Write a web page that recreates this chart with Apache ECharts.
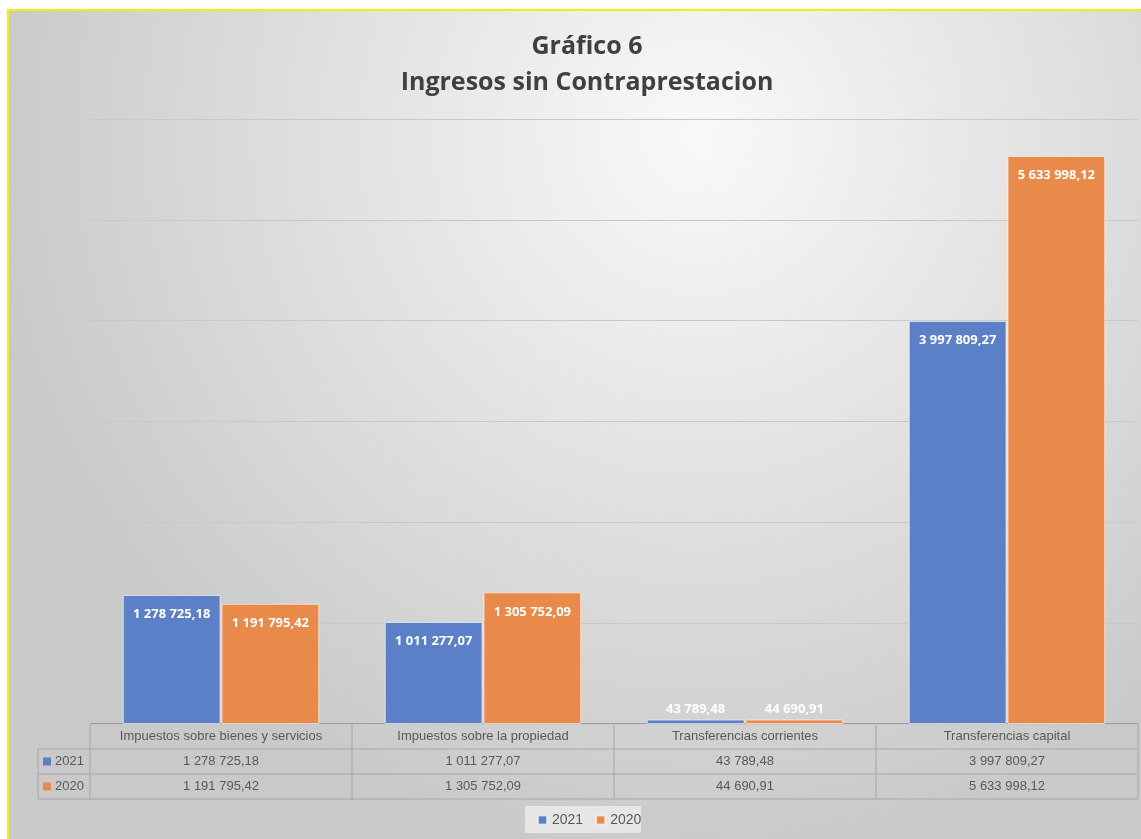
<!DOCTYPE html>
<html>
<head>
<meta charset="utf-8">
<script src="https://cdn.jsdelivr.net/npm/echarts@6/dist/echarts.min.js"></script>
<style>
  html, body { margin: 0; padding: 0; background: #fff; }
  #main { width: 1141px; height: 839px; }
</style>
</head>
<body>
<div id="main"></div>
<script>
// datos
var categorias = ['Impuestos sobre bienes y servicios', 'Impuestos sobre la propiedad', 'Transferencias corrientes', 'Transferencias capital'];
var anios = ['2021', '2020'];
var valores2021 = [1278725.18, 1011277.07, 43789.48, 3997809.27];
var valores2020 = [1191795.42, 1305752.09, 44690.91, 5633998.12];
var colores = ['#5b80c8', '#e98a4a'];

// formato 1 278 725,18
function fmt(v) {
    var p = v.toFixed(2).split('.');
    return p[0].replace(/\B(?=(\d{3})+(?!\d))/g, ' ') + ',' + p[1];
}

var W = 1141, H = 839;
var gLeft = 90, gRight = 3, gTop = 119, gBottom = 115;
var plotW = W - gLeft - gRight;
var colW = plotW / categorias.length;
var baseY = H - gBottom;
var rowH = 25;
var tableLeft = 38;
var lineColor = '#a6a6a6';
var textColor = '#595959';

var myChart = echarts.init(document.getElementById('main'));

// fondo y tabla de datos
var graficos = [];
graficos.push({
    type: 'rect', z: -10, silent: true,
    shape: { x: 8, y: 10, width: W + 10, height: H + 10 },
    style: {
        fill: {
            type: 'radial', x: 0.6, y: 0.15, r: 0.85,
            colorStops: [{ offset: 0, color: '#f9f9f9' }, { offset: 1, color: '#c9c9c9' }]
        },
        stroke: '#f2f200', lineWidth: 2
    }
});
// lineas horizontales
for (var r = 0; r <= 3; r++) {
    graficos.push({
        type: 'line', silent: true,
        shape: { x1: r === 0 ? gLeft : tableLeft, y1: baseY + r * rowH, x2: gLeft + plotW, y2: baseY + r * rowH },
        style: { stroke: r === 0 ? '#8c8c8c' : lineColor, lineWidth: r === 0 ? 1.5 : 1 }
    });
}
// lineas verticales
graficos.push({
    type: 'line', silent: true,
    shape: { x1: tableLeft, y1: baseY + rowH, x2: tableLeft, y2: baseY + 3 * rowH },
    style: { stroke: lineColor, lineWidth: 1 }
});
for (var c = 0; c <= categorias.length; c++) {
    graficos.push({
        type: 'line', silent: true,
        shape: { x1: gLeft + c * colW, y1: baseY, x2: gLeft + c * colW, y2: baseY + 3 * rowH },
        style: { stroke: lineColor, lineWidth: 1 }
    });
}
// textos de la tabla
var filas = [valores2021, valores2020];
categorias.forEach(function (cat, i) {
    graficos.push({
        type: 'text', silent: true,
        x: gLeft + (i + 0.5) * colW, y: baseY + rowH / 2,
        style: { text: cat, fill: textColor, font: '13px "Liberation Sans"', align: 'center', verticalAlign: 'middle' }
    });
    filas.forEach(function (fila, j) {
        graficos.push({
            type: 'text', silent: true,
            x: gLeft + (i + 0.5) * colW, y: baseY + (j + 1.5) * rowH,
            style: { text: fmt(fila[i]), fill: textColor, font: '13px "Liberation Sans"', align: 'center', verticalAlign: 'middle' }
        });
    });
});
anios.forEach(function (a, j) {
    graficos.push({
        type: 'rect', silent: true,
        shape: { x: tableLeft + 5, y: baseY + (j + 1.5) * rowH - 4, width: 8, height: 8 },
        style: { fill: colores[j] }
    });
    graficos.push({
        type: 'text', silent: true,
        x: tableLeft + 17, y: baseY + (j + 1.5) * rowH,
        style: { text: a, fill: textColor, font: '13px "Liberation Sans"', verticalAlign: 'middle' }
    });
});
// fondo de la leyenda
graficos.push({
    type: 'rect', z: -5, silent: true,
    shape: { x: 525, y: 806, width: 116, height: 27 },
    style: { fill: '#e6e6e6' }
});

function serie(nombre, valores, color) {
    return {
        name: nombre,
        type: 'bar',
        barGap: '1%',
        barCategoryGap: '25%',
        itemStyle: { color: color, borderColor: 'rgba(255,255,255,0.6)', borderWidth: 1 },
        label: {
            show: true,
            position: 'insideTop',
            distance: 13,
            color: '#fff',
            fontWeight: 'bold',
            fontSize: 13,
            fontFamily: 'Open Sans',
            formatter: function (p) { return fmt(p.value); }
        },
        data: valores.map(function (v) {
            return v < 200000 ? { value: v, label: { position: 'top', distance: 4 } } : v;
        })
    };
}

option = {
    animation: false,
    title: {
        text: 'Gráfico 6\nIngresos sin Contraprestacion',
        left: 582,
        textAlign: 'center',
        top: 24,
        textStyle: {
            color: '#404040',
            fontSize: 25,
            fontWeight: 'bold',
            fontFamily: 'Open Sans',
            lineHeight: 36
        }
    },
    legend: {
        data: anios,
        top: 808,
        left: 532,
        itemWidth: 9,
        itemHeight: 9,
        itemGap: 12,
        icon: 'rect',
        textStyle: { color: textColor, fontSize: 14, fontFamily: 'Liberation Sans' }
    },
    grid: {
        left: gLeft,
        right: gRight,
        top: gTop,
        bottom: gBottom
    },
    xAxis: {
        type: 'category',
        data: categorias,
        axisLine: { show: false },
        axisTick: { show: false },
        axisLabel: { show: false }
    },
    yAxis: {
        type: 'value',
        min: 0,
        max: 6000000,
        interval: 1000000,
        axisLabel: { show: false },
        axisLine: { show: false },
        axisTick: { show: false },
        splitLine: { lineStyle: { color: '#c8c8c8', width: 1 } }
    },
    graphic: graficos,
    series: [
        serie(anios[0], valores2021, colores[0]),
        serie(anios[1], valores2020, colores[1])
    ]
};

myChart.setOption(option);
</script>
</body>
</html>
